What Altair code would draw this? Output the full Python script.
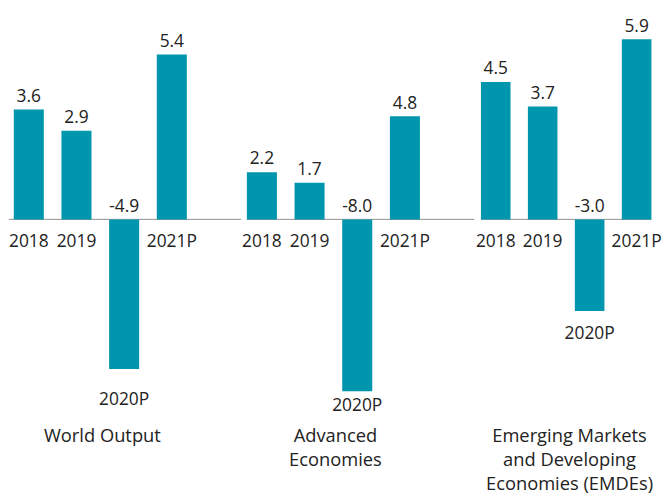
import altair as alt
import pandas as pd

years = ["2018", "2019", "2020P", "2021P"]
groups = ["World Output", "Advanced\nEconomies", "Emerging Markets\nand Developing\nEconomies (EMDEs)"]
world = [3.6, 2.9, -4.9, 5.4]
advanced = [2.2, 1.7, -8.0, 4.8]
emdes = [4.5, 3.7, -3.0, 5.9]

BAR = "#0096AE"
TXT = "#222222"
FONT = "Open Sans"
FS = 18
FSG = 19
H = 470
ZERO = 209  # pixel row of the zero line inside the plot area


def panel(values, group, width, k, pad_outer, x0, x1, neg_dy):
    df = pd.DataFrame({
        "year": years,
        "value": values,
        "label": [f"{v:.1f}" for v in values],
    })
    hi = ZERO / k
    lo = -(H - ZERO) / k
    ys = alt.Scale(domain=[lo, hi], nice=False, zero=False)
    xenc = alt.X("year:N", sort=years, axis=None,
                 scale=alt.Scale(paddingInner=0.37, paddingOuter=pad_outer, align=0))
    base = alt.Chart(df).encode(x=xenc)
    bars = base.mark_bar(color=BAR).encode(
        y=alt.Y("value:Q", scale=ys, axis=None), y2=alt.datum(0))
    vals = base.transform_calculate(ly="max(datum.value, 0)").mark_text(
        dy=-8, baseline="alphabetic", fontSize=FS, font=FONT, color=TXT
    ).encode(y=alt.Y("ly:Q", scale=ys, axis=None), text="label:N")
    yrs_pos = base.transform_filter("datum.value >= 0").mark_text(
        dy=29, baseline="alphabetic", fontSize=FS, font=FONT, color=TXT
    ).encode(y=alt.Y("z:Q", scale=ys, axis=None), text="year:N").transform_calculate(z="0")
    yrs_neg = base.transform_filter("datum.value < 0").mark_text(
        dy=neg_dy, baseline="alphabetic", fontSize=FS, font=FONT, color=TXT
    ).encode(y=alt.Y("value:Q", scale=ys, axis=None), text="year:N")
    rule = alt.Chart(alt.Data(values=[{"z": 0}])).mark_rule(
        color="#8c8c8c", strokeWidth=1
    ).encode(y=alt.Y("z:Q", scale=ys, axis=None), x=alt.value(x0), x2=alt.value(x1))
    glabel = alt.Chart(alt.Data(values=[{"g": group}])).mark_text(
        lineBreak="\n", lineHeight=25, fontSize=FSG, font=FONT, color=TXT,
        baseline="alphabetic", align="center"
    ).encode(text="g:N", x=alt.value(92), y=alt.value(440))
    return alt.layer(rule, bars, vals, yrs_pos, yrs_neg, glabel).properties(
        width=width, height=H)


p1 = panel(world, groups[0], 236, 31.7, 0.569, -5, 236, 37)
p2 = panel(advanced, groups[1], 236, 22.3, 0.569, 0, 236, 21)
p3 = panel(emdes, groups[2], 177, 31.7, 0.0, 0, 177, 29)

chart = alt.hconcat(p1, p2, p3, spacing=0).properties(
    padding={"left": 0, "top": 0, "right": 0, "bottom": 0},
).configure_view(stroke=None)

chart.save("out.html", embed_options={"renderer": "svg", "actions": False})
